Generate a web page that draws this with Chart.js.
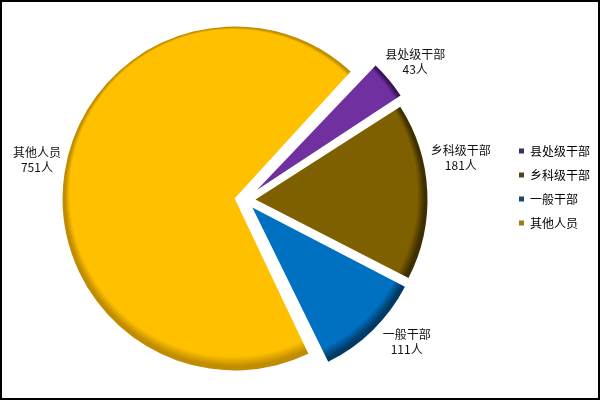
<!DOCTYPE html>
<html>
<head>
<meta charset="utf-8">
<script src="https://cdn.jsdelivr.net/npm/chart.js@4.4.1/dist/chart.umd.min.js"></script>
<style>
  html, body { margin: 0; padding: 0; background: #fff; }
  #wrap { position: relative; width: 600px; height: 400px; }
  #wrap canvas { display: block; }
  #wrap::after { content: ''; position: absolute; inset: 0; border: 2px solid #000; pointer-events: none; }
</style>
</head>
<body>
<div id="wrap"><canvas id="pie" width="600" height="400"></canvas></div>
<script>
// 人员构成
const categories = ['县处级干部', '乡科级干部', '一般干部', '其他人员'];
const counts = [43, 181, 111, 751];
const unit = '人';

// slice colours, darker rim tones and legend key tones
const sliceColors = ['#7030A0', '#7F6000', '#0070C0', '#FFC000'];
const rimColors = ['#3A1458', '#3F2F00', '#003A66', '#C08C00'];
const keyColors = ['#3E2C62', '#54441A', '#1F466E', '#9C7A16'];

// how far each slice is pulled out from the centre (Chart.js offset units)
const sliceOffsets = [62, 42, 42, 42];

const PIE_RADIUS = 172;
const FONT = '"Noto Sans CJK SC", "Noto Sans", sans-serif';

// Fill each slice with a flat colour that darkens towards its rim (lit from above)
function sliceFill(c) {
  const i = c.dataIndex;
  const area = c.chart.chartArea;
  if (!area) return sliceColors[i];
  const cx = (area.left + area.right) / 2;
  const cy = (area.top + area.bottom) / 2;
  const g = c.chart.ctx.createRadialGradient(cx - 30, cy - 110, 0, cx, cy, PIE_RADIUS);
  g.addColorStop(0, sliceColors[i]);
  g.addColorStop(0.95, sliceColors[i]);
  g.addColorStop(0.985, rimColors[i]);
  g.addColorStop(1, rimColors[i]);
  return g;
}

// Keep every exploded slice on the same radius (Chart.js grows small slices by part of their offset)
const evenRadius = {
  id: 'evenRadius',
  afterDatasetsUpdate(chart) {
    const meta = chart.getDatasetMeta(0);
    meta.data.forEach((arc) => {
      const off = (arc.options && arc.options.offset) || 0;
      const fix = 1 - Math.sin(Math.min(Math.PI, arc.circumference || 0));
      arc.outerRadius = PIE_RADIUS - (off / 4) * fix;
    });
  }
};

// Move the legend block to its spot on the right
const legendPlace = {
  id: 'legendPlace',
  afterLayout(chart, args, opts) {
    const lg = chart.legend;
    if (!lg) return;
    const w = lg.right - lg.left;
    lg.left = opts.left;
    lg.right = opts.left + w;
    lg.top += opts.dy;
    lg.bottom += opts.dy;
  }
};

// Two-line category / count labels outside each slice
const sliceLabels = {
  id: 'sliceLabels',
  afterDatasetsDraw(chart, args, opts) {
    const meta = chart.getDatasetMeta(0);
    const ctx = chart.ctx;
    const values = chart.data.datasets[0].data;
    ctx.save();
    ctx.font = opts.size + 'px ' + FONT;
    ctx.fillStyle = opts.color;
    ctx.textAlign = 'center';
    ctx.textBaseline = 'middle';
    meta.data.forEach((arc, i) => {
      const spot = opts.spots[i];
      const a = arc.startAngle + (arc.endAngle - arc.startAngle) * spot.at;
      const r = PIE_RADIUS + spot.gap;
      const x = arc.x + Math.cos(a) * r;
      const y = arc.y + Math.sin(a) * r;
      ctx.fillText(chart.data.labels[i], x, y - opts.lineGap / 2);
      ctx.fillText(values[i] + unit, x, y + opts.lineGap / 2);
    });
    ctx.restore();
  }
};

new Chart(document.getElementById('pie'), {
  type: 'pie',
  data: {
    labels: categories,
    datasets: [{
      data: counts,
      backgroundColor: sliceFill,
      borderWidth: 0,
      offset: (c) => sliceOffsets[c.dataIndex],
      hoverOffset: 0
    }]
  },
  options: {
    responsive: false,
    devicePixelRatio: 1,
    animation: false,
    events: [],
    rotation: 43,
    radius: PIE_RADIUS,
    layout: { padding: { left: 0, right: 17, top: 0, bottom: 0 } },
    plugins: {
      tooltip: { enabled: false },
      legend: {
        position: 'right',
        align: 'center',
        labels: {
          boxWidth: 5,
          boxHeight: 5,
          padding: 12,
          color: '#000',
          font: { family: FONT, size: 12 },
          generateLabels: (chart) => chart.data.labels.map((t, i) => ({
            text: t,
            fillStyle: keyColors[i],
            strokeStyle: keyColors[i],
            lineWidth: 0,
            fontColor: '#000',
            hidden: false,
            index: i
          }))
        }
      },
      legendPlace: { left: 507, dy: -13 },
      sliceLabels: {
        size: 12,
        color: '#111',
        lineGap: 15,
        spots: [
          { at: 0.56, gap: 47 },
          { at: 0.36, gap: 48 },
          { at: 0.38, gap: 43 },
          { at: 0.51, gap: 40 }
        ]
      }
    }
  },
  plugins: [evenRadius, legendPlace, sliceLabels]
});
</script>
</body>
</html>
